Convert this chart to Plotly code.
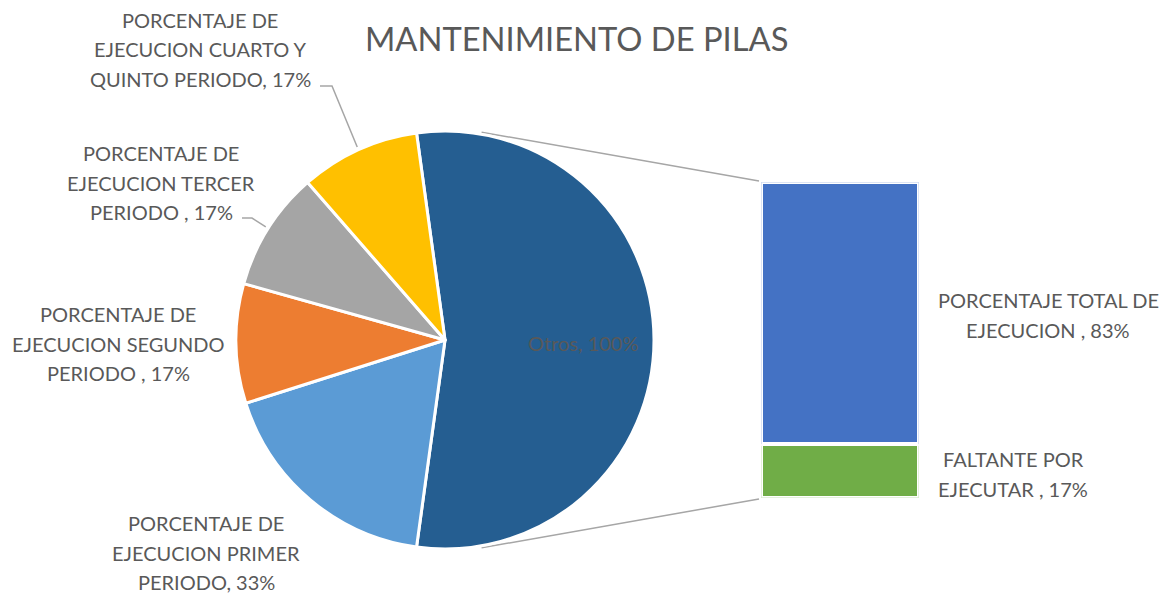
import math
import plotly.graph_objects as go

W, H = 1169, 593
OFF = 8  # default page body margin
WF, HF = W - OFF, H - OFF

# ---------------- data ----------------
pie_labels = ["Otros",
              "PORCENTAJE DE EJECUCION PRIMER PERIODO",
              "PORCENTAJE DE EJECUCION SEGUNDO PERIODO ",
              "PORCENTAJE DE EJECUCION TERCER PERIODO ",
              "PORCENTAJE DE EJECUCION CUARTO Y QUINTO PERIODO"]
pie_values = [100, 33, 17, 17, 17]
pie_colors = ["#255E91", "#5B9BD5", "#ED7D31", "#A5A5A5", "#FFC000"]

bar_labels = ["FALTANTE POR EJECUTAR ", "PORCENTAJE TOTAL DE EJECUCION "]
bar_values = [17, 83]
bar_colors = ["#70AD47", "#4472C4"]

title_text = "MANTENIMIENTO DE PILAS"

# label text split into lines (text only)
pie_label_lines = [
    ["Otros, 100%"],
    ["PORCENTAJE DE", "EJECUCION PRIMER", "PERIODO, 33%"],
    ["PORCENTAJE DE", "EJECUCION SEGUNDO", "PERIODO , 17%"],
    ["PORCENTAJE DE", "EJECUCION TERCER", "PERIODO , 17%"],
    ["PORCENTAJE DE", "EJECUCION CUARTO Y", "QUINTO PERIODO, 17%"],
]
bar_label_lines = [
    ["FALTANTE POR", "EJECUTAR , 17%"],
    ["PORCENTAJE TOTAL DE", "EJECUCION , 83%"],
]

# ---------------- layout geometry (window pixels) ----------------
CX, CY, R = 445, 340, 209
BAR_L, BAR_R, BAR_T, BAR_B = 763, 917, 184, 496
GAP = 3.5  # white separator width

# label anchor: (center x, first line y, line spacing)
pie_label_pos = [(583, 343, 0), (206, 523, 29.5), (118, 314, 29.5), (161, 153, 29.5), (200, 20, 29.5)]
bar_label_pos = [(1013, 459, 29.5), (1048, 300, 30)]

TEXT_COLOR = "#595959"
FONT = "Lato"
FS = 20

def px(x):
    return (x - OFF) / WF

def py(y):
    return 1 - (y - OFF) / HF

total = sum(pie_values)
span0 = pie_values[0] / total * 360
rotation = 90 - span0 / 2

fig = go.Figure()

fig.add_trace(go.Pie(
    labels=pie_labels, values=pie_values, sort=False, direction="clockwise",
    rotation=rotation, marker=dict(colors=pie_colors, line=dict(color="white", width=3)),
    textinfo="none", hoverinfo="label+value",
    domain=dict(x=[px(CX - R), px(CX + R)], y=[py(CY + R), py(CY - R)]),
    showlegend=False,
))

for lab, val, col in zip(bar_labels, bar_values, bar_colors):
    fig.add_trace(go.Bar(
        x=[0], y=[val], name=lab, width=1,
        marker=dict(color=col, line=dict(color="white", width=GAP)),
        xaxis="x", yaxis="y", showlegend=False,
    ))

fig.update_layout(
    width=WF, height=HF, barmode="stack",
    margin=dict(l=0, r=0, t=0, b=0),
    paper_bgcolor="white", plot_bgcolor="rgba(0,0,0,0)",
    xaxis=dict(domain=[px(BAR_L - GAP / 2), px(BAR_R + GAP / 2)], range=[-0.5, 0.5], visible=False, fixedrange=True),
    yaxis=dict(domain=[py(BAR_B + GAP / 2), py(BAR_T - GAP / 2)], range=[0, sum(bar_values)], visible=False, fixedrange=True),
)

annotations = []
annotations.append(dict(text=title_text, x=px(576), y=py(38), xref="paper", yref="paper",
                        showarrow=False, xanchor="center", yanchor="middle",
                        font=dict(family=FONT, size=32.7, color=TEXT_COLOR)))

def add_lines(lines, pos):
    cx, y0, dy = pos
    for i, t in enumerate(lines):
        annotations.append(dict(text=t, x=px(cx), y=py(y0 + i * dy), xref="paper", yref="paper",
                                showarrow=False, xanchor="center", yanchor="middle",
                                font=dict(family=FONT, size=FS, color=TEXT_COLOR)))

for lines, pos in zip(pie_label_lines, pie_label_pos):
    add_lines(lines, pos)
for lines, pos in zip(bar_label_lines, bar_label_pos):
    add_lines(lines, pos)

fig.update_layout(annotations=annotations)

shapes = []
LINE_COL = "#A6A6A6"

# series lines: tangent from bar corners to pie circle
def tangent_point(ex, ey, upper):
    dx, dy = ex - CX, ey - CY
    d = math.hypot(dx, dy)
    th0 = math.atan2(dy, dx)
    off = math.acos((R + 2) / d)
    th = th0 - off if upper else th0 + off
    return CX + (R + 2) * math.cos(th), CY + (R + 2) * math.sin(th)

for (ex, ey, upper) in [(BAR_L - 4, BAR_T - 3, True), (BAR_L - 4, BAR_B + 3, False)]:
    tx, ty = tangent_point(ex, ey, upper)
    shapes.append(dict(type="line", xref="paper", yref="paper", layer="below",
                       x0=px(tx), y0=py(ty), x1=px(ex), y1=py(ey),
                       line=dict(color=LINE_COL, width=1.5)))

# leader lines for small slices (tercer, cuarto)
cum = 0
mids = []
for v in pie_values:
    mids.append(rotation + (cum + v / 2) / total * 360)
    cum += v

leaders = {4: (320, 332, 86), 3: (242, 252, 218)}
for idx, (xa, xb, yl) in leaders.items():
    a = math.radians(mids[idx])
    ex = CX + (R + 3) * math.sin(a)
    ey = CY - (R + 3) * math.cos(a)
    path = f"M {px(xa)},{py(yl)} L {px(xb)},{py(yl)} L {px(ex)},{py(ey)}"
    shapes.append(dict(type="path", xref="paper", yref="paper", path=path,
                       line=dict(color=LINE_COL, width=1.5)))

fig.update_layout(shapes=shapes)

fig.write_html("out.html")
